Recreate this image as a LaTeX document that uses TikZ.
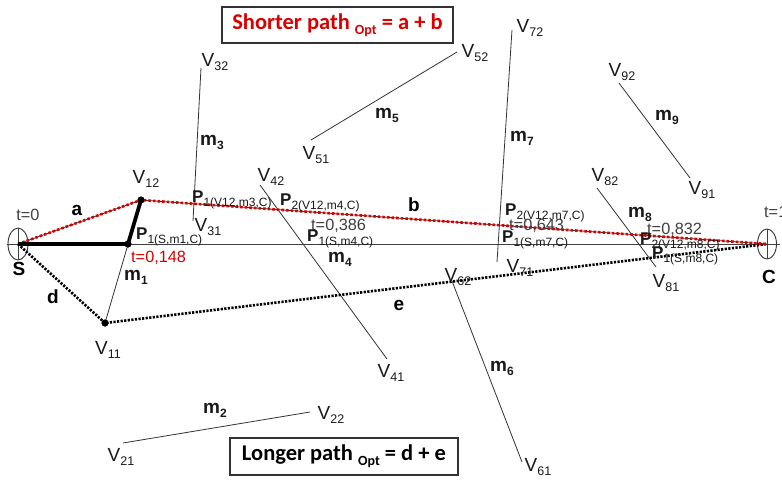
\documentclass[tikz,border=0pt]{standalone}
\usepackage{fontspec}
\setmainfont{Liberation Sans}
\newfontfamily\boxfont{Carlito}
\usetikzlibrary{shapes.geometric}
\newcommand{\Vn}[1]{V\raisebox{-0.35ex}{\fontsize{12.5}{12.5}\selectfont #1}}
\newcommand{\Pn}[1]{\textbf{P}\raisebox{-0.4ex}{\fontsize{12}{12}\selectfont #1}}
\newcommand{\Mn}[1]{\textbf{m}\raisebox{-0.4ex}{\fontsize{12}{12}\selectfont\bfseries #1}}
\begin{document}
\begin{tikzpicture}[x=1pt,y=-1pt,
  seg/.style={draw=black!80, line width=0.8pt},
  axis/.style={draw=black!75, line width=0.9pt},
  redpath/.style={draw=red!85!black, line width=2.6pt, dash pattern=on 2.6pt off 2pt},
  blkpath/.style={draw=black, line width=2.6pt, dash pattern=on 2.2pt off 1.4pt},
  thickpath/.style={draw=black, line width=3.8pt, line join=round},
  dot/.style={circle, fill=black, inner sep=0pt, minimum size=7pt},
  endpt/.style={ellipse, draw=black!80, line width=0.9pt, inner sep=0pt},
  lab/.style={inner sep=0pt, font=\fontsize{19}{19}\selectfont, text=black!90},
  plab/.style={inner sep=0pt, font=\fontsize{17}{17}\selectfont, text=black!90},
  tlab/.style={inner sep=0pt, font=\fontsize{16.3}{16.3}\selectfont, text=black!75},
  bigl/.style={inner sep=0pt, font=\fontsize{19}{19}\selectfont\bfseries},
  optbox/.style={draw=black!80, line width=1.1pt, inner sep=0pt, font=\boxfont\bfseries\fontsize{22.5}{22.5}\selectfont}
]
\useasboundingbox (0,0) rectangle (782,480);
\fill[white] (0,0) rectangle (782,480);

% end points
\node[endpt, minimum width=20pt, minimum height=32pt] (S) at (18,244) {};
\node[endpt, minimum width=19pt, minimum height=30pt] (C) at (767,244) {};
\draw[axis] (S.north) -- (S.south);
\draw[axis] (C.north) -- (C.south);
\coordinate (Lend) at (7,244);
\coordinate (Rend) at (780,244);
\draw[axis] (Lend) -- (Rend);

% obstacle segments
\coordinate (V21) at (123,443); \coordinate (V22) at (310,412);
\coordinate (V31) at (193,221); \coordinate (V32) at (201,68);
\coordinate (V41) at (387,359); \coordinate (V42) at (260,185);
\coordinate (V51) at (311,140); \coordinate (V52) at (457,52);
\coordinate (V61) at (522,462); \coordinate (V62) at (452,281);
\coordinate (V71) at (497,262); \coordinate (V72) at (512,30);
\coordinate (V81) at (656,267); \coordinate (V82) at (597,188);
\coordinate (V91) at (690,178); \coordinate (V92) at (619,83);
\draw[seg] (V21) -- (V22);
\draw[seg] (V31) -- (V32);
\draw[seg] (V41) -- (V42);
\draw[seg] (V51) -- (V52);
\draw[seg] (V61) -- (V62);
\draw[seg] (V71) -- (V72);
\draw[seg] (V81) -- (V82);
\draw[seg] (V91) -- (V92);

% m1 and key points
\node[dot] (V11) at (105,323) {};
\node[dot] (V12) at (141,200) {};
\node[dot] (P1) at (128,244) {};
\draw[seg] (V11.center) -- (V12.center);

% longer path d + e
\draw[blkpath] (S.center) -- (V11.center) -- (C.center);
% shorter path a + b
\draw[draw=black!80, line width=0.8pt] (S.center) -- (V12.center) -- (C.center);
\draw[redpath] (S.center) -- (V12.center) -- (C.center);
% thick path
\draw[thickpath] (S.center) -- (P1.center) -- (V12.center);
\node[dot] at (V12.center) {};
\node[dot] at (V11.center) {};
\node[dot] at (P1.center) {};

% labels
\node[tlab] (t0) at (28,215) {t=0};
\node[bigl] (la) at (77,210) {a};
\node[bigl] (lS) at (19,269) {S};
\node[bigl] (ld) at (53,297) {d};
\node[lab] (lV12) at (146,179) {\Vn{12}};
\node[plab, anchor=west] (lP1) at (136,237) {\Pn{1(S,m1,C)}};
\node[tlab, text=red!85!black, anchor=west] (lt148) at (131,258) {t=0,148};
\node[lab] (lm1) at (136,277) {\Mn{1}};
\node[lab] (lV11) at (108,350) {\Vn{11}};

\node[lab] (lV21) at (121,457) {\Vn{21}};
\node[lab] (lV22) at (331,415) {\Vn{22}};
\node[lab] (lm2) at (215,410) {\Mn{2}};

\node[lab] (lV32) at (215,62) {\Vn{32}};
\node[lab] (lm3) at (212,142) {\Mn{3}};
\node[lab] (lV31) at (208,227) {\Vn{31}};
\node[plab, anchor=west] (lP13) at (192,200) {\Pn{1(V12,m3,C)}};

\node[lab] (lV42) at (271,177) {\Vn{42}};
\node[plab, anchor=west] (lP24) at (280,203) {\Pn{2(V12,m4,C)}};
\node[tlab, anchor=west] (lt386) at (311,226) {t=0,386};
\node[plab, anchor=west] (lP14) at (307,239) {\Pn{1(S,m4,C)}};
\node[lab] (lm4) at (340,259) {\Mn{4}};
\node[lab] (lV41) at (391,373) {\Vn{41}};

\node[lab] (lV51) at (316,155) {\Vn{51}};
\node[lab] (lm5) at (387,115) {\Mn{5}};
\node[lab] (lV52) at (475,53) {\Vn{52}};
\node[bigl] (lb) at (414,205) {b};

\node[lab] (lV72) at (530,28) {\Vn{72}};
\node[lab] (lm7) at (522,138) {\Mn{7}};
\node[plab, anchor=west] (lP27) at (505,213) {\Pn{2(V12,m7,C)}};
\node[tlab, anchor=west] (lt643) at (509,226) {t=0,643};
\node[plab, anchor=west] (lP17) at (502,240) {\Pn{1(S,m7,C)}};
\node[lab] (lV71) at (520,268) {\Vn{71}};
\node[lab] (lV62) at (458,277) {\Vn{62}};
\node[bigl] (le) at (399,305) {e};
\node[lab] (lm6) at (502,368) {\Mn{6}};
\node[lab] (lV61) at (538,467) {\Vn{61}};

\node[lab] (lV82) at (605,177) {\Vn{82}};
\node[lab] (lm8) at (640,214) {\Mn{8}};
\node[tlab, anchor=west] (lt832) at (647,230) {t=0,832};
\node[plab, anchor=west] (lP28) at (640,242) {\Pn{2(V12,m8,C)}};
\node[plab, anchor=west] (lP18) at (652,256) {\Pn{1(S,m8,C)}};
\node[lab] (lV81) at (666,283) {\Vn{81}};

\node[lab] (lV92) at (622,72) {\Vn{92}};
\node[lab] (lm9) at (667,117) {\Mn{9}};
\node[lab] (lV91) at (702,190) {\Vn{91}};

\node[tlab, anchor=west] (t1) at (764,212) {t=1};
\node[bigl] (lC) at (769,277) {C};

% boxes
\node[optbox, text=red!85!black, minimum width=231pt, minimum height=36pt] (short) at (337.5,25)
  {Shorter path \raisebox{-0.45ex}{\fontsize{14}{14}\selectfont Opt} = a + b};
\node[optbox, text=black, minimum width=228pt, minimum height=37pt] (long) at (344,456.5)
  {Longer path \raisebox{-0.45ex}{\fontsize{14}{14}\selectfont Opt} = d + e};
\end{tikzpicture}
\end{document}
